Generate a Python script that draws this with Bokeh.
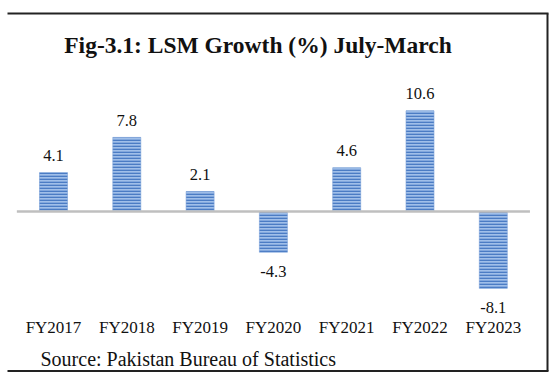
from bokeh.plotting import figure
from bokeh.models import Range1d, ColumnDataSource
from bokeh.core.properties import value
from bokeh.embed import file_html
from bokeh.resources import INLINE

# ---- data ----
categories = ["FY2017", "FY2018", "FY2019", "FY2020", "FY2021", "FY2022", "FY2023"]
growth = [4.1, 7.8, 2.1, -4.3, 4.6, 10.6, -8.1]
title_text = "Fig-3.1: LSM Growth (%) July-March"
source_text = "Source: Pakistan Bureau of Statistics"

# ---- layout (pixel geometry of the canvas) ----
W, H = 553, 382
X0_PX = 53.0      # canvas px of first category centre
DX_PX = 73.3      # px per category
Y0_PX = 211.0     # canvas px of zero line
DY_PX = 9.5       # px per unit

def X(px):  # canvas px -> data x
    return (px - X0_PX) / DX_PX

def Y(py):  # canvas px (from top) -> data y
    return (Y0_PX - py) / DY_PX

p = figure(width=W, height=H, output_backend="svg", toolbar_location=None,
           x_range=Range1d(X(0), X(W)), y_range=Range1d(Y(H), Y(0)),
           min_border=0, min_border_left=0, min_border_right=0,
           min_border_top=0, min_border_bottom=0)
p.axis.visible = False
p.grid.visible = False
p.outline_line_color = None
p.background_fill_color = "white"
p.border_fill_color = "white"

idx = list(range(len(categories)))
src = ColumnDataSource(dict(
    x=idx, top=[max(v, 0) for v in growth], bottom=[min(v, 0) for v in growth],
    val=growth, lab=[f"{v:.1f}" for v in growth],
    yoff=[-17 if v >= 0 else 19 for v in growth], cat=categories,
    cy=[Y(327)] * len(categories),
))

# bars with horizontal stripes
p.vbar(x="x", top="top", bottom="bottom", width=28 / DX_PX, source=src,
       fill_color="#a0bfe9", line_color="#7ea3d8", line_width=0.6,
       hatch_pattern="horizontal_line", hatch_color="#4b7cc4",
       hatch_scale=3, hatch_weight=1.7)

# zero line
p.segment(x0=[-0.5], y0=[0], x1=[len(categories) - 0.5], y1=[0],
          line_color="#bfbfbf", line_width=2.5)

serif = value("Liberation Serif")

# value labels
p.text(x="x", y="val", text="lab", y_offset="yoff", source=src,
       text_font=serif, text_font_size="16.5px", text_color="#111111",
       text_align="center", text_baseline="middle")

# category labels
p.text(x="x", y="cy", text="cat", source=src,
       text_font=serif, text_font_size="17px", text_color="#111111",
       text_align="center", text_baseline="middle")

# title
p.text(x=[X(257.5)], y=[Y(44)], text=[title_text], text_font=serif,
       text_font_size="23.5px", text_font_style="bold", text_color="#111111",
       text_align="center", text_baseline="middle")

# source
p.text(x=[X(40)], y=[Y(358)], text=[source_text], text_font=serif,
       text_font_size="20px", text_color="#111111",
       text_align="left", text_baseline="middle")

# frame lines (top, right, bottom)
p.segment(x0=[X(7), X(547), X(7)], y0=[Y(13), Y(13), Y(370.5)],
          x1=[X(548), X(547), X(548)], y1=[Y(13), Y(370.5), Y(370.5)],
          line_color="#222222", line_width=2)

open("out.html", "w").write(file_html(p, INLINE))
